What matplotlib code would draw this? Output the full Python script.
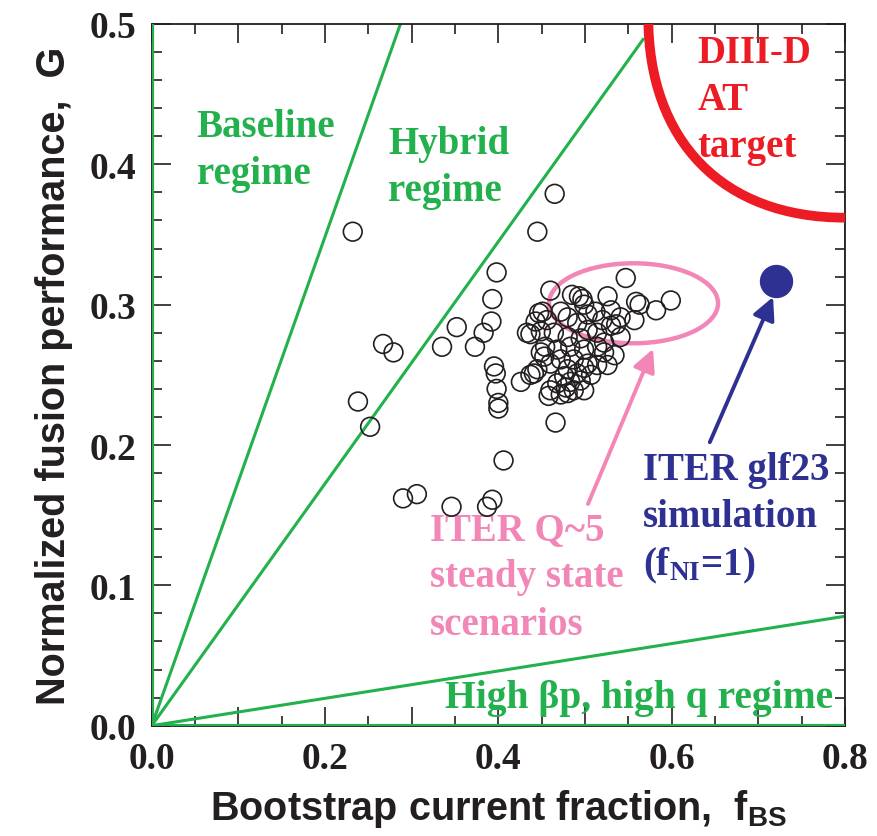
import matplotlib
matplotlib.use("Agg")
import matplotlib.pyplot as plt
from matplotlib import font_manager
from matplotlib.patches import Ellipse, PathPatch
from matplotlib.path import Path
from matplotlib.ticker import MultipleLocator, FuncFormatter

# ---- data -------------------------------------------------------------
# Experimental discharges: bootstrap fraction f_BS and normalized performance G
f_bs = [0.232, 0.465, 0.445, 0.398, 0.393, 0.392, 0.383, 0.373, 0.352, 0.335,
        0.267, 0.279, 0.433, 0.238, 0.252, 0.395, 0.397, 0.398, 0.400, 0.400,
        0.426, 0.406, 0.290, 0.306, 0.346, 0.393, 0.387, 0.441, 0.466, 0.460,
        0.451, 0.547, 0.485, 0.493, 0.526, 0.559, 0.563, 0.582, 0.599, 0.557,
        0.536, 0.534, 0.526,
        0.447, 0.443, 0.437, 0.449, 0.456, 0.472, 0.480, 0.491, 0.503, 0.512,
        0.520, 0.530, 0.503, 0.514, 0.495, 0.480, 0.464, 0.454, 0.449, 0.468,
        0.483, 0.499, 0.514, 0.522, 0.460, 0.472, 0.487, 0.503, 0.514, 0.480,
        0.491, 0.499, 0.507, 0.476, 0.483, 0.495, 0.468, 0.478, 0.460, 0.499,
        0.472, 0.458, 0.480, 0.487, 0.437, 0.445, 0.453, 0.522, 0.541, 0.497,
        0.499, 0.530, 0.541]
g_perf = [0.352, 0.379, 0.352, 0.323, 0.304, 0.288, 0.280, 0.270, 0.284, 0.270,
          0.272, 0.266, 0.280, 0.231, 0.213, 0.256, 0.251, 0.240, 0.230, 0.226,
          0.245, 0.189, 0.162, 0.165, 0.156, 0.161, 0.156, 0.251, 0.216, 0.310,
          0.295, 0.319, 0.307, 0.306, 0.306, 0.302, 0.300, 0.296, 0.303, 0.289,
          0.286, 0.264, 0.257,
          0.294, 0.288, 0.279, 0.281, 0.289, 0.295, 0.291, 0.287, 0.293, 0.295,
          0.289, 0.285, 0.282, 0.280, 0.276, 0.277, 0.280, 0.270, 0.266, 0.268,
          0.270, 0.268, 0.270, 0.266, 0.258, 0.261, 0.261, 0.258, 0.257, 0.254,
          0.251, 0.255, 0.250, 0.249, 0.245, 0.246, 0.244, 0.241, 0.239, 0.239,
          0.236, 0.235, 0.237, 0.239, 0.250, 0.254, 0.263, 0.273, 0.277, 0.304,
          0.300, 0.296, 0.291]

# ITER glf23 simulation point
iter_glf23 = (0.720, 0.317)

# Regime boundary lines from the origin (end points)
baseline_end = (0.287, 0.500)
hybrid_end = (0.567, 0.489)
highbp_end = (0.800, 0.078)

# DIII-D AT target boundary: corner curve from top edge to right edge
at_start = (0.573, 0.505)
at_end = (0.800, 0.362)
at_squareness = 0.62

# ITER Q~5 steady-state region
q5_center = (0.556, 0.301)
q5_width = 0.195
q5_height = 0.057

x_ticklabels = ["0.0", "", "0.2", "", "0.4", "", "0.6", "", "0.8"]
y_ticklabels = ["0.0", "0.1", "0.2", "0.3", "0.4", "0.5"]

# ---- styling ----------------------------------------------------------
GREEN = "#22b14c"
RED = "#ed1c24"
PINK = "#f287b7"
BLUE = "#2e3192"

available = {f.name for f in font_manager.fontManager.ttflist}
SANS = "Liberation Sans Narrow" if "Liberation Sans Narrow" in available else "Liberation Sans"
SERIF = "Liberation Serif"

plt.rcParams["mathtext.default"] = "regular"

fig = plt.figure(figsize=(8.78, 8.37), dpi=100)
ax = fig.add_axes([151.7 / 878, 1 - 726.7 / 837, 693.3 / 878, (726.7 - 25) / 837])
ax.set_xlim(0, 0.8)
ax.set_ylim(0, 0.5)

# frame lines
for s in ax.spines.values():
    s.set_linewidth(1.3)
    s.set_color("#231f20")
ax.axvline(0, color=GREEN, lw=3, zorder=4)
ax.axhline(0, color=GREEN, lw=3, zorder=4)
ax.axvline(0.8, color=GREEN, lw=2, zorder=1)

# regime lines
for end in (baseline_end, hybrid_end, highbp_end):
    ax.plot([0, end[0]], [0, end[1]], color=GREEN, lw=2.2, zorder=2)

# DIII-D AT target boundary (cubic Bezier bent toward the corner)
k = at_squareness
c1 = (at_start[0], at_start[1] - k * (at_start[1] - at_end[1]))
c2 = (at_end[0] - k * (at_end[0] - at_start[0]), at_end[1])
at_path = Path([at_start, c1, c2, at_end],
               [Path.MOVETO, Path.CURVE4, Path.CURVE4, Path.CURVE4])
ax.add_patch(PathPatch(at_path, fill=False, edgecolor=RED, lw=7,
                       capstyle="butt", zorder=3))

# ITER Q~5 region
ax.add_patch(Ellipse(q5_center, q5_width, q5_height, fill=False,
                     edgecolor=PINK, lw=3.2, zorder=2))

# discharges
ax.scatter(f_bs, g_perf, s=13.5 ** 2, facecolors="none", edgecolors="#231f20",
           linewidths=1.2, zorder=5)

# ITER glf23 point
ax.plot([iter_glf23[0]], [iter_glf23[1]], marker="o", ms=23, color=BLUE,
        mec=BLUE, zorder=5, ls="none")

# arrows
ax.annotate("", xy=(0.5785, 0.2685), xytext=(0.5035, 0.158),
            arrowprops=dict(arrowstyle="-|>", color=PINK, lw=2.8,
                            mutation_scale=34, shrinkA=0, shrinkB=0), zorder=6)
ax.annotate("", xy=(0.717, 0.3055), xytext=(0.644, 0.202),
            arrowprops=dict(arrowstyle="-|>", color=BLUE, lw=2.8,
                            mutation_scale=34, shrinkA=0, shrinkB=0), zorder=6)

# labels
tfont = dict(family=SERIF, weight="bold", size=28)
LS = 1.36
ax.text(0.052, 0.410, "Baseline\nregime", color=GREEN, ha="left", va="center",
        linespacing=LS, **tfont)
ax.text(0.273, 0.398, "Hybrid\nregime", color=GREEN, ha="left", va="center",
        linespacing=LS, **tfont)
ax.text(0.630, 0.446, "DIII-D\nAT\ntarget", color=RED, ha="left", va="center",
        linespacing=LS, **tfont)
ax.text(0.321, 0.106, "ITER Q~5\nsteady state\nscenarios", color=PINK,
        ha="left", va="center", linespacing=LS, **tfont)
ax.text(0.567, 0.148, "ITER glf23\nsimulation\n(f$_{NI}$=1)", color=BLUE,
        ha="left", va="center", linespacing=LS, **tfont)
ax.text(0.339, 0.020, "High βp, high q regime", color=GREEN, ha="left",
        va="center", family=SERIF, weight="bold", size=28.5)

# ticks
ax.xaxis.set_major_locator(MultipleLocator(0.1))
ax.xaxis.set_minor_locator(MultipleLocator(0.05))
ax.yaxis.set_major_locator(MultipleLocator(0.1))
ax.yaxis.set_minor_locator(MultipleLocator(0.02))
ax.xaxis.set_major_formatter(FuncFormatter(
    lambda v, p: x_ticklabels[int(round(v / 0.1))] if 0 <= round(v / 0.1) < len(x_ticklabels) else ""))
ax.yaxis.set_major_formatter(FuncFormatter(
    lambda v, p: y_ticklabels[int(round(v / 0.1))] if 0 <= round(v / 0.1) < len(y_ticklabels) else ""))
ax.tick_params(which="both", direction="in", top=True, right=True,
               color="#231f20", width=1.2)
ax.tick_params(which="major", length=14, pad=11)
ax.tick_params(which="minor", length=7)
for lab in ax.get_xticklabels() + ax.get_yticklabels():
    lab.set_fontfamily(SERIF)
    lab.set_fontweight("bold")
    lab.set_fontsize(27)
    lab.set_color("#231f20")

lsize = 31 if SANS == "Liberation Sans Narrow" else 28.5
lfont = dict(family=SANS, weight="bold", size=lsize, color="#231f20")
ax.set_xlabel("Bootstrap current fraction,  f$_{BS}$", labelpad=8, **lfont)
ax.set_ylabel("Normalized fusion performance,  G", labelpad=12, **lfont)

fig.savefig("out.png", dpi=100)
